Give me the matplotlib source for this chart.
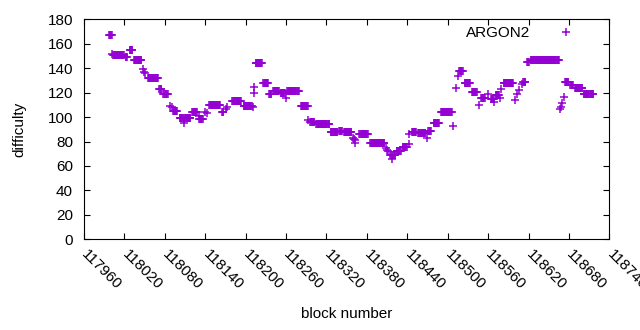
import numpy as np
import matplotlib
matplotlib.use("Agg")
import matplotlib.pyplot as plt

# each entry is a run of consecutive blocks that share the same difficulty
run_start = [
    117997, 118002, 118003, 118022, 118028, 118034, 118048, 118049, 118051,
    118055, 118072, 118078, 118088, 118090, 118092, 118102, 118109, 118110,
    118121, 118130, 118131, 118139, 118142, 118146, 118165, 118171, 118173,
    118180, 118197, 118211, 118212, 118213, 118215, 118226, 118235, 118241,
    118252, 118260, 118262, 118282, 118293, 118296, 118305, 118326, 118339,
    118346, 118360, 118361, 118362, 118363, 118369, 118385, 118409, 118410,
    118412, 118415, 118418, 118419, 118424, 118433, 118442, 118443, 118447,
    118456, 118469, 118471, 118479, 118490, 118508, 118513, 118515, 118517,
    118525, 118536, 118546, 118550, 118560, 118564, 118569, 118571, 118577,
    118579, 118583, 118600, 118603, 118606, 118610, 118612, 118618, 118623,
    118667, 118668, 118670, 118672, 118674, 118682, 118689, 118702,
]
run_end = [
    118001, 118002, 118019, 118024, 118032, 118045, 118048, 118049, 118051,
    118070, 118075, 118084, 118088, 118090, 118098, 118108, 118109, 118118,
    118128, 118130, 118136, 118139, 118142, 118162, 118167, 118171, 118173,
    118193, 118209, 118211, 118212, 118213, 118224, 118233, 118238, 118249,
    118258, 118260, 118279, 118292, 118293, 118302, 118324, 118336, 118343,
    118357, 118360, 118361, 118362, 118363, 118381, 118406, 118409, 118410,
    118412, 118417, 118418, 118422, 118430, 118439, 118442, 118443, 118453,
    118467, 118469, 118475, 118487, 118506, 118508, 118513, 118515, 118522,
    118533, 118543, 118546, 118555, 118560, 118568, 118569, 118576, 118577,
    118579, 118597, 118600, 118603, 118606, 118610, 118615, 118620, 118665,
    118667, 118668, 118670, 118672, 118679, 118686, 118700, 118716,
]
run_difficulty = [
    167, 152, 151, 149, 155, 147, 139, 137, 136,
    132, 123, 119, 109, 108, 105, 99, 95, 99,
    104, 101, 98.5, 104, 103, 110, 104, 107, 108,
    113, 109, 108, 120, 125, 144, 128, 118.5, 121,
    119.5, 116, 121, 109, 98, 96, 94, 87.5, 89,
    87.5, 83, 82, 81, 79, 86, 78.5, 75, 73,
    72, 69, 66, 69, 72, 75.5, 78, 86, 88,
    86.7, 82.5, 88.5, 95, 104.5, 93, 124, 134, 138,
    127.6, 120.3, 109.5, 116, 119, 114.5, 112, 118, 115.5,
    123, 127.5, 113.7, 118.5, 122, 127, 129, 145, 147,
    106.5, 108, 111.5, 116.5, 128.5, 126, 123.5, 118.7,
]

xtick_values = list(range(117960, 118741, 60))
ytick_values = list(range(0, 181, 20))

blocks = np.concatenate([np.arange(s, e + 1) for s, e in zip(run_start, run_end)])
difficulty = np.concatenate(
    [np.full(e - s + 1, d, dtype=float) for s, e, d in zip(run_start, run_end, run_difficulty)]
)

plt.rcParams["font.family"] = ["Liberation Sans", "DejaVu Sans"]
plt.rcParams["font.size"] = 11

fig = plt.figure(figsize=(6.4, 3.3), dpi=100)
ax = fig.add_axes([0.13125, 0.2748, 0.8209, 0.6667])

ax.plot(blocks, difficulty, linestyle="none", marker="+", ms=5.8, mew=1.1,
        color="#9400D3", label="ARGON2")

ax.set_xlim(117960, 118740)
ax.set_ylim(0, 180)
ax.set_xticks(xtick_values)
ax.set_xticklabels([str(v) for v in xtick_values], rotation=-45, ha="left",
                   va="center", rotation_mode="anchor")
ax.set_yticks(ytick_values)

for spine in ax.spines.values():
    spine.set_linewidth(0.8)
ax.tick_params(direction="in", length=4.5, width=0.8, top=True, right=True,
               labelsize=11)
ax.tick_params(axis="x", pad=9)
ax.tick_params(axis="y", pad=8)

ax.set_xlabel("block number", labelpad=11)
ax.set_ylabel("difficulty", labelpad=15)

ax.legend(loc="upper right", bbox_to_anchor=(0.946, 0.97), frameon=False,
          markerfirst=False, handlelength=2, handletextpad=1.3,
          borderaxespad=0, borderpad=0, fontsize=11)

fig.savefig("out.png", dpi=100)
